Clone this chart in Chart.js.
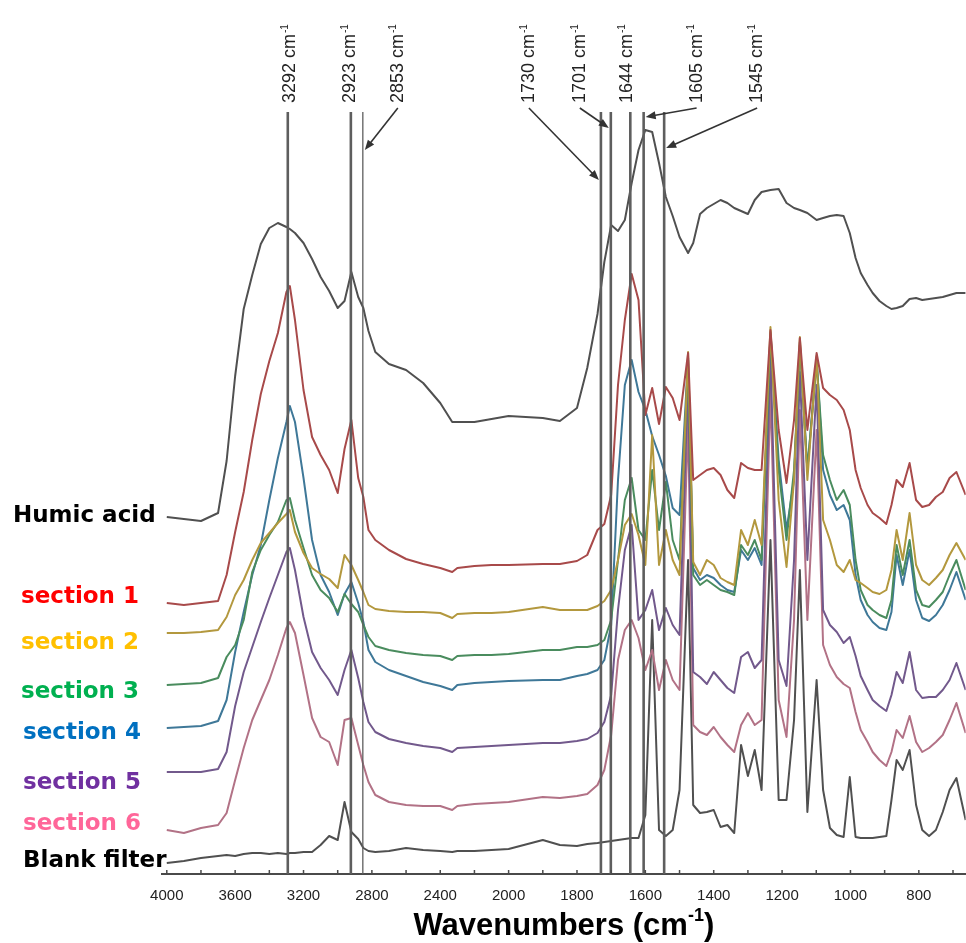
<!DOCTYPE html>
<html>
<head>
<meta charset="utf-8">
<script src="https://cdn.jsdelivr.net/npm/chart.js@4.4.1/dist/chart.umd.min.js"></script>
<style>
  html, body { margin: 0; padding: 0; background: #fff; }
  #wrap { width: 966px; height: 943px; }
</style>
</head>
<body>
<div id="wrap"><canvas id="chart" width="966" height="943"></canvas></div>
<script>
var wavenumbers = [4000, 3900, 3800, 3700, 3650, 3600, 3550, 3500, 3450, 3400,
  3350, 3300, 3280, 3250, 3200, 3150, 3100, 3050, 3000, 2960,
  2920, 2880, 2850, 2820, 2780, 2700, 2600, 2500, 2400, 2330,
  2300, 2200, 2100, 2000, 1900, 1850, 1800, 1770, 1740, 1720,
  1700, 1680, 1660, 1640, 1620, 1600, 1580, 1560, 1540, 1520,
  1500, 1475, 1460, 1440, 1420, 1400, 1380, 1360, 1340, 1320,
  1300, 1280, 1260, 1234, 1210, 1187, 1165, 1148, 1126, 1099,
  1080, 1060, 1040, 1020, 1002, 985, 970, 950, 935, 915,
  895, 880, 865, 847, 827, 808, 790, 770, 750, 730,
  710, 690, 663]

// stacked absorbance (offset, arbitrary units)
var humicAcid = [35.7, 35.5, 35.3, 36.1, 41.3, 49.8, 56.5, 59.9, 63.0, 64.6,
  65.1, 64.7, 64.5, 64.1, 63.1, 61.5, 59.7, 58.3, 56.6, 57.3,
  60.2, 57.7, 56.6, 54.3, 52.2, 51.0, 50.4, 49.1, 47.1, 45.2,
  45.2, 45.2, 45.5, 45.8, 45.6, 45.3, 46.6, 50.6, 56.0, 61.2,
  64.9, 64.3, 65.4, 69.1, 72.4, 74.4, 74.2, 71.1, 67.7, 65.8,
  63.7, 62.1, 63.1, 66.0, 66.6, 67.0, 67.4, 67.1, 66.6, 66.3,
  66.0, 67.4, 68.2, 68.4, 68.5, 67.1, 66.6, 66.4, 66.1, 65.4,
  65.6, 65.8, 65.9, 65.8, 64.1, 61.6, 60.1, 58.9, 58.1, 57.3,
  56.8, 56.5, 56.6, 56.8, 57.5, 57.6, 57.4, 57.5, 57.6, 57.7,
  57.9, 58.1, 58.1]
var section1 = [27.1, 26.9, 27.1, 27.3, 29.9, 34.2, 38.2, 43.4, 48.0, 51.3,
  54.1, 58.2, 58.8, 55.4, 48.4, 43.7, 41.9, 40.4, 38.1, 42.5,
  45.4, 39.6, 37.7, 34.4, 33.4, 32.4, 31.5, 31.0, 30.6, 30.2,
  30.6, 30.8, 30.9, 30.9, 31.0, 31.0, 31.3, 31.9, 34.4, 35.0,
  37.9, 48.9, 55.4, 60.0, 57.4, 45.9, 48.6, 45.0, 48.7, 47.6,
  45.4, 52.1, 39.4, 39.9, 40.4, 40.6, 39.9, 38.4, 37.6, 41.1,
  40.6, 40.4, 40.4, 54.4, 44.4, 39.1, 45.4, 53.6, 44.4, 52.1,
  48.6, 47.9, 47.4, 46.4, 44.4, 40.4, 38.6, 36.9, 36.1, 35.6,
  35.0, 36.9, 39.4, 38.7, 41.1, 37.4, 36.7, 36.9, 37.7, 38.2,
  39.6, 40.2, 37.9]
var section2 = [24.1, 24.1, 24.2, 24.4, 25.7, 27.9, 29.4, 31.4, 33.1, 34.1,
  35.1, 36.0, 36.4, 34.2, 32.1, 30.6, 30.0, 29.5, 28.6, 31.9,
  30.9, 29.4, 28.2, 26.9, 26.5, 26.3, 26.2, 26.2, 26.1, 25.6,
  26.0, 26.1, 26.1, 26.2, 26.7, 26.4, 26.4, 26.4, 26.8, 27.3,
  28.4, 31.4, 34.9, 36.0, 33.9, 30.9, 43.9, 30.9, 34.4, 31.4,
  29.9, 52.2, 31.2, 29.9, 31.4, 30.9, 29.6, 29.2, 28.9, 34.4,
  32.9, 35.4, 32.9, 54.7, 37.4, 30.7, 39.4, 53.7, 39.4, 51.8,
  35.4, 33.4, 30.9, 30.2, 31.4, 29.4, 29.1, 28.6, 28.2, 28.0,
  28.4, 30.4, 34.4, 31.4, 36.1, 30.9, 29.4, 28.9, 29.6, 30.4,
  31.9, 33.1, 31.4]
var section3 = [18.9, 19.0, 19.1, 19.6, 21.7, 22.9, 25.4, 30.2, 32.4, 33.9,
  35.2, 37.4, 37.6, 35.4, 32.6, 29.9, 28.4, 27.6, 26.2, 28.0,
  27.0, 26.2, 24.9, 23.7, 22.8, 22.4, 22.1, 21.9, 21.8, 21.4,
  21.8, 21.9, 21.9, 22.0, 22.4, 22.4, 22.7, 22.7, 22.9, 23.4,
  25.4, 31.4, 37.4, 39.6, 34.4, 33.4, 40.4, 34.4, 39.2, 33.4,
  31.4, 51.4, 29.9, 28.9, 29.4, 28.9, 28.4, 28.2, 27.9, 32.9,
  31.9, 33.4, 31.4, 54.0, 40.4, 33.4, 40.4, 52.9, 40.4, 51.2,
  41.9, 39.4, 37.4, 38.4, 36.9, 31.4, 28.4, 26.9, 26.4, 25.9,
  25.6, 27.4, 32.9, 29.9, 33.4, 28.4, 26.9, 26.7, 27.4, 28.2,
  29.9, 31.4, 28.4]
var section4 = [14.6, 14.7, 14.8, 15.3, 17.4, 22.2, 26.2, 29.9, 32.9, 37.4,
  41.6, 45.2, 46.8, 45.2, 39.6, 33.4, 29.9, 28.2, 25.9, 28.0,
  29.2, 27.1, 25.2, 22.4, 21.2, 20.4, 19.8, 19.2, 18.8, 18.4,
  18.9, 19.1, 19.2, 19.3, 19.4, 19.4, 19.8, 20.0, 20.4, 21.4,
  24.9, 39.4, 48.9, 51.4, 48.2, 46.4, 43.8, 41.9, 39.8, 36.6,
  35.9, 51.6, 30.6, 29.4, 29.9, 29.6, 28.9, 28.4, 28.2, 32.4,
  31.4, 32.6, 30.9, 54.2, 41.4, 34.4, 39.4, 53.2, 40.4, 51.6,
  40.4, 37.9, 36.4, 36.9, 35.4, 29.9, 27.4, 25.9, 25.2, 24.6,
  24.4, 26.2, 31.9, 28.9, 32.4, 27.4, 25.6, 25.3, 25.9, 26.9,
  28.4, 30.2, 27.4]
var section5 = [10.2, 10.2, 10.2, 10.5, 12.2, 16.8, 20.2, 22.7, 25.2, 27.6,
  29.9, 32.2, 32.6, 30.4, 25.7, 22.2, 20.6, 19.4, 17.9, 20.4,
  22.4, 19.6, 17.2, 15.2, 14.2, 13.5, 13.1, 12.8, 12.6, 12.2,
  12.6, 12.7, 12.8, 12.9, 13.1, 13.1, 13.3, 13.5, 14.1, 15.2,
  17.9, 26.4, 32.4, 34.9, 25.4, 26.4, 28.4, 24.4, 26.6, 24.9,
  23.9, 49.4, 20.2, 19.7, 19.0, 20.2, 19.4, 18.6, 18.1, 21.7,
  22.2, 20.6, 21.4, 52.2, 21.4, 18.8, 31.4, 50.2, 31.4, 48.9,
  26.4, 24.9, 24.2, 23.1, 23.7, 21.8, 19.8, 18.4, 17.4, 16.8,
  16.3, 17.9, 20.2, 19.1, 22.2, 18.4, 17.6, 17.7, 17.7, 18.4,
  19.4, 21.1, 18.4]
var section6 = [4.4, 4.1, 4.6, 4.9, 6.1, 9.4, 12.6, 15.4, 17.4, 19.4,
  21.9, 24.6, 25.2, 24.1, 19.9, 15.6, 13.7, 13.2, 10.9, 15.4,
  15.6, 12.9, 10.9, 9.2, 7.9, 7.2, 6.9, 6.8, 6.8, 6.4,
  6.8, 7.0, 7.1, 7.2, 7.7, 7.6, 7.8, 8.0, 8.9, 10.4,
  13.9, 21.4, 24.4, 25.4, 23.6, 20.4, 22.4, 18.4, 21.4, 19.4,
  18.4, 45.4, 14.9, 14.2, 13.9, 14.7, 13.7, 12.9, 12.2, 14.9,
  16.1, 14.9, 15.4, 48.4, 17.4, 13.7, 25.4, 46.4, 25.4, 44.4,
  22.9, 20.9, 19.7, 19.0, 18.6, 16.2, 14.4, 13.2, 12.2, 11.4,
  10.8, 12.2, 14.4, 13.6, 15.8, 13.2, 12.2, 12.6, 13.2, 13.9,
  15.4, 17.1, 14.1]
var blankFilter = [1.1, 1.3, 1.6, 1.8, 1.9, 1.8, 2.0, 2.1, 2.1, 2.0,
  2.1, 2.0, 2.1, 2.1, 2.2, 2.2, 2.9, 3.8, 3.4, 7.2,
  4.2, 3.5, 2.6, 2.3, 2.2, 2.3, 2.6, 2.4, 2.3, 2.2,
  2.3, 2.3, 2.4, 2.5, 3.4, 2.9, 2.8, 3.0, 3.1, 3.2,
  3.3, 3.4, 3.5, 3.6, 3.6, 5.9, 25.4, 4.4, 3.8, 4.4,
  8.4, 31.4, 6.9, 6.1, 6.2, 6.4, 4.7, 4.9, 4.1, 12.9,
  9.8, 12.4, 8.4, 33.4, 7.4, 7.4, 15.4, 30.4, 6.2, 19.4,
  8.4, 4.6, 3.9, 3.7, 9.7, 3.7, 3.6, 3.6, 3.6, 3.7,
  3.8, 7.4, 11.4, 10.4, 12.4, 6.9, 4.4, 3.8, 4.4, 6.2,
  8.4, 9.6, 5.4]

var seriesNames = ['Humic acid', 'section 1', 'section 2', 'section 3', 'section 4', 'section 5', 'section 6', 'Blank filter']
var seriesValues = [humicAcid, section1, section2, section3, section4, section5, section6, blankFilter]
// level (same units as the spectra) at which each name is written on the left
var labelLevels = [35.8, 27.7, 23.1, 18.2, 14.1, 9.1, 5.0, 1.3]

var tickLabels = [4000, 3600, 3200, 2800, 2400, 2000, 1800, 1600, 1400, 1200, 1000, 800]
var bandWavenumbers = [3292, 2923, 2853, 1730, 1701, 1644, 1605, 1545]

var lineColors = ['#505050', '#a84a4a', '#b3983e', '#4a8c5e', '#3f7898', '#72598c', '#b27286', '#505050']
var nameColors = ['#000000', '#ff0000', '#ffc000', '#00b050', '#0070c0', '#7030a0', '#ff6699', '#000000']
var nameLeft = [13, 21, 21, 21, 23, 23, 23, 23]

// label placement for the band markers: horizontal shift from the line, arrow head height
var bandLabels = [
  { dx: 2 }, { dx: -1 }, { dx: 35, head: 150, thin: true },
  { dx: -72, head: 180 }, { dx: -31, head: 128 }, { dx: -3 },
  { dx: 53, head: 117 }, { dx: 93, head: 148 }
]

// axis is drawn with a scale break: 400 cm-1 per division above 2000, 200 below
function toU(w) {
  return w >= 2000 ? (4000 - w) / 400 : 5 + (2000 - w) / 200
}

var tickValues = []
for (var t = 0; t < 12; t += 0.5) tickValues.push(t)

var datasets = seriesValues.map(function(vals, i) {
  return {
    label: seriesNames[i],
    data: wavenumbers.map(function(w, j) { return { x: toU(w), y: vals[j] } }),
    borderColor: lineColors[i],
    borderWidth: 2,
    borderJoinStyle: 'round',
    pointRadius: 0,
    tension: 0,
    fill: false
  }
})

function drawArrow(ctx, x0, y0, x1, y1) {
  var a = Math.atan2(y1 - y0, x1 - x0)
  ctx.beginPath()
  ctx.moveTo(x0, y0)
  ctx.lineTo(x1 - 7 * Math.cos(a), y1 - 7 * Math.sin(a))
  ctx.stroke()
  ctx.beginPath()
  ctx.moveTo(x1, y1)
  ctx.lineTo(x1 - 10 * Math.cos(a) + 4 * Math.sin(a), y1 - 10 * Math.sin(a) - 4 * Math.cos(a))
  ctx.lineTo(x1 - 10 * Math.cos(a) - 4 * Math.sin(a), y1 - 10 * Math.sin(a) + 4 * Math.cos(a))
  ctx.closePath()
  ctx.fill()
}

var decor = {
  id: 'decor',
  afterDatasetsDraw: function(chart) {
    var ctx = chart.ctx
    var xs = chart.scales.x
    var area = chart.chartArea
    ctx.save()
    bandWavenumbers.forEach(function(w, i) {
      var x = xs.getPixelForValue(toU(w))
      ctx.strokeStyle = '#5e5e5e'
      ctx.lineWidth = bandLabels[i].thin ? 1.3 : 2.6
      ctx.beginPath()
      ctx.moveTo(x, area.top)
      ctx.lineTo(x, area.bottom)
      ctx.stroke()
    })
    ctx.restore()
  },
  afterDraw: function(chart) {
    var ctx = chart.ctx
    var xs = chart.scales.x
    var ys = chart.scales.y
    var area = chart.chartArea
    ctx.save()

    // small inward tick marks
    ctx.strokeStyle = '#4a4a4a'
    ctx.lineWidth = 1.5
    tickValues.forEach(function(v) {
      var px = xs.getPixelForValue(v)
      ctx.beginPath()
      ctx.moveTo(px, area.bottom)
      ctx.lineTo(px, area.bottom - 4)
      ctx.stroke()
    })

    // band labels and arrows
    bandWavenumbers.forEach(function(w, i) {
      var b = bandLabels[i]
      var x = xs.getPixelForValue(toU(w))
      var lx = x + b.dx
      ctx.save()
      ctx.translate(lx, 103)
      ctx.rotate(-Math.PI / 2)
      ctx.fillStyle = '#222'
      ctx.textAlign = 'left'
      ctx.textBaseline = 'middle'
      ctx.font = '18px "Liberation Sans", Arial, sans-serif'
      var main = w + ' cm'
      ctx.fillText(main, 0, 0)
      var mw = ctx.measureText(main).width
      ctx.font = '10px "Liberation Sans", Arial, sans-serif'
      ctx.fillText('-1', mw + 1, -5)
      ctx.restore()
      if (b.head) {
        var side = lx > x ? 1 : -1
        ctx.strokeStyle = '#333'
        ctx.fillStyle = '#333'
        ctx.lineWidth = 1.6
        drawArrow(ctx, lx, 108, x + side * 2, b.head)
      }
    })

    // series names on the left
    ctx.font = 'bold 23px "DejaVu Sans", Verdana, sans-serif'
    ctx.textAlign = 'left'
    ctx.textBaseline = 'middle'
    seriesNames.forEach(function(name, i) {
      ctx.fillStyle = nameColors[i]
      ctx.fillText(name, nameLeft[i], ys.getPixelForValue(labelLevels[i]))
    })

    // axis title with superscript
    var cx = (area.left + area.right) / 2
    var ty = 926
    var big = 'bold 31px "Liberation Sans", Arial, sans-serif'
    var small = 'bold 18px "Liberation Sans", Arial, sans-serif'
    ctx.fillStyle = '#000'
    ctx.textBaseline = 'middle'
    ctx.textAlign = 'left'
    ctx.font = big
    var p1 = 'Wavenumbers (cm', p3 = ')'
    var w1 = ctx.measureText(p1).width
    var w3 = ctx.measureText(p3).width
    ctx.font = small
    var w2 = ctx.measureText('-1').width
    var x0 = cx - (w1 + w2 + w3) / 2
    ctx.font = big
    ctx.fillText(p1, x0, ty)
    ctx.fillText(p3, x0 + w1 + w2, ty)
    ctx.font = small
    ctx.fillText('-1', x0 + w1, ty - 10)

    ctx.restore()
  }
}

new Chart(document.getElementById('chart').getContext('2d'), {
  type: 'line',
  data: { datasets: datasets },
  options: {
    responsive: false,
    animation: false,
    devicePixelRatio: 1,
    layout: { padding: { left: 162, top: 112, right: 0, bottom: 0 } },
    plugins: { legend: { display: false }, tooltip: { enabled: false } },
    scales: {
      x: {
        type: 'linear',
        min: toU(4028),
        max: toU(663),
        afterFit: function(s) { s.height = 69 },
        afterBuildTicks: function(s) {
          s.ticks = tickValues.map(function(v) { return { value: v } })
        },
        grid: { display: false, drawTicks: false },
        border: { display: true, color: '#4a4a4a', width: 2 },
        ticks: {
          autoSkip: false,
          maxRotation: 0,
          padding: 13,
          color: '#222',
          font: { family: '"Liberation Sans", Arial, sans-serif', size: 15 },
          callback: function(value) {
            var k = Math.round(value)
            return Math.abs(value - k) < 1e-6 ? String(tickLabels[k]) : ''
          }
        }
      },
      y: { display: false, min: 0, max: 76.2 }
    }
  },
  plugins: [decor]
})
</script>
</body>
</html>
